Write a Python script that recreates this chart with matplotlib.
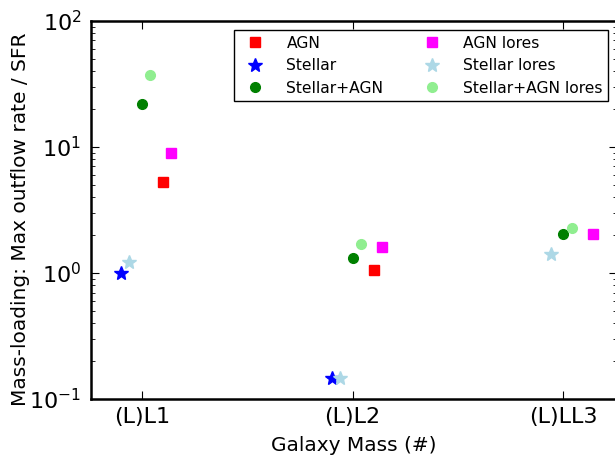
import numpy as np
import matplotlib.pyplot as plt

# galaxy runs and their mass-loading (max outflow rate / SFR)
labels = ['(L)L1', '(L)L2', '(L)LL3']
x = np.array([1, 2, 3])

agn = [5.3, 1.06, np.nan]
stellar = [1.0, 0.147, np.nan]
stellar_agn = [21.9, 1.31, 2.04]
agn_lores = [9.0, 1.62, 2.05]
stellar_lores = [1.22, 0.147, 1.42]
stellar_agn_lores = [37.0, 1.69, 2.27]

plt.rcParams['xtick.direction'] = 'in'
plt.rcParams['ytick.direction'] = 'in'
plt.rcParams['xtick.top'] = True
plt.rcParams['ytick.right'] = True
plt.rcParams['axes.unicode_minus'] = False

fig = plt.figure(figsize=(6.15, 4.55), dpi=100)
ax = fig.add_axes([0.148, 0.123, 0.856, 0.831])

ax.plot(x + 0.10, agn, 's', color='red', mec='red', ms=7, label='AGN')
ax.plot(x - 0.10, stellar, '*', color='blue', mec='blue', ms=10, label='Stellar')
ax.plot(x, stellar_agn, 'o', color='green', mec='green', ms=7, label='Stellar+AGN')
ax.plot(x + 0.14, agn_lores, 's', color='magenta', mec='magenta', ms=7, label='AGN lores')
ax.plot(x - 0.06, stellar_lores, '*', color='lightblue', mec='lightblue', ms=10, label='Stellar lores')
ax.plot(x + 0.04, stellar_agn_lores, 'o', color='lightgreen', mec='lightgreen', ms=7, label='Stellar+AGN lores')

ax.set_yscale('log')
ax.set_ylim(0.1, 100)
ax.set_xlim(0.758, 3.257)
ax.set_xticks(x)
ax.set_xticklabels(labels, fontsize=16)
ax.tick_params(axis='y', which='major', labelsize=16, length=6, width=0.8, pad=7)
ax.tick_params(axis='y', which='minor', length=3, width=0.6)
ax.tick_params(axis='x', which='major', length=6, width=0.8, pad=6)
for s in ax.spines.values():
    s.set_linewidth(1.8)

ax.set_xlabel('Galaxy Mass (#)', fontsize=14.5, labelpad=6)
ax.set_ylabel('Mass-loading: Max outflow rate / SFR', fontsize=14.5)
ax.yaxis.set_label_coords(-0.115, 0.475)

leg = ax.legend(loc='upper right', bbox_to_anchor=(0.982, 0.976), borderaxespad=0,
                ncol=2, numpoints=1, fontsize=11.2, fancybox=False, edgecolor='black',
                framealpha=1, handletextpad=1.0, columnspacing=2.1, borderpad=0.37,
                labelspacing=0.48, handlelength=2.0)
leg.get_frame().set_linewidth(1.0)

plt.savefig('out.png', dpi=100)
